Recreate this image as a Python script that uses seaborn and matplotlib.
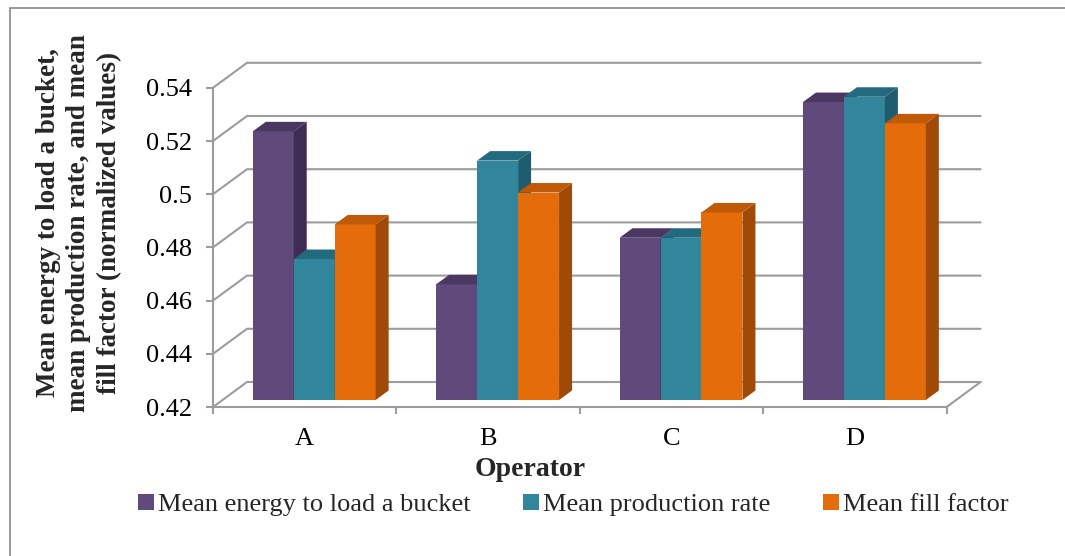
import numpy as np
import pandas as pd
import matplotlib
matplotlib.use("Agg")
import matplotlib.pyplot as plt
import seaborn as sns
from matplotlib.patches import Polygon, Patch, Rectangle
from matplotlib.lines import Line2D
from matplotlib.transforms import IdentityTransform

# ---------------- data ----------------
operators = ["A", "B", "C", "D"]
series = ["Mean energy to load a bucket", "Mean production rate", "Mean fill factor"]
energy = [0.521, 0.4635, 0.481, 0.532]
production = [0.473, 0.510, 0.481, 0.534]
fill = [0.486, 0.498, 0.4905, 0.524]
y_ticks = [0.42, 0.44, 0.46, 0.48, 0.50, 0.52, 0.54]
y_tick_labels = ["0.42", "0.44", "0.46", "0.48", "0.5", "0.52", "0.54"]

front_colors = ["#5F4A7B", "#31869B", "#E46C0A"]
top_colors = ["#4A3862", "#236A7E", "#C15A08"]
side_colors = ["#3E2C55", "#1F5C70", "#9F4A06"]
grid_color = "#9C9C9C"

df = pd.DataFrame({
    "Operator": operators * 3,
    "Series": np.repeat(series, len(operators)),
    "Value": energy + production + fill,
})

sns.set_theme(style="white")
plt.rcParams["font.family"] = ["Liberation Serif", "DejaVu Serif"]

W, H = 1065, 556
fig = plt.figure(figsize=(W / 100, H / 100), dpi=100)

# geometry (pixels)
plot_w = 733.6
plot_h = 319.2
front_left, front_bottom = 213.0, 149.0
bar_shift = (9.5, 7.0)       # bar plane relative to front plane
wall_shift = (34.0, 25.0)    # back wall relative to front plane
bar_depth = (13.0, 9.5)      # depth of each bar

ax_front = fig.add_axes([front_left / W, front_bottom / H, plot_w / W, plot_h / H])
ax = fig.add_axes([(front_left + bar_shift[0]) / W, (front_bottom + bar_shift[1]) / H,
                   plot_w / W, plot_h / H])
for a in (ax_front, ax):
    a.set_xlim(-0.5, len(operators) - 0.5)
    a.set_ylim(y_ticks[0], y_ticks[-1])
ax.patch.set_alpha(0)
ax_front.patch.set_alpha(0)
ax.set_zorder(2)
ax_front.set_zorder(1)

# front axes: spines, ticks, labels
for s in ["top", "right"]:
    ax_front.spines[s].set_visible(False)
for s in ["left", "bottom"]:
    ax_front.spines[s].set_color(grid_color)
    ax_front.spines[s].set_linewidth(1.5)
ax_front.set_yticks(y_ticks)
ax_front.set_yticklabels(y_tick_labels)
ax_front.set_xticks(range(len(operators)))
ax_front.set_xticklabels(operators)
ax_front.set_xticks(np.arange(-0.5, len(operators), 1.0), minor=True)
ax_front.tick_params(axis="y", left=True, direction="out", length=5, width=1.5,
                     color=grid_color, labelsize=19, pad=10, labelcolor="black")
ax_front.tick_params(axis="x", which="major", bottom=True, length=0, labelsize=19,
                     pad=15, labelcolor="black")
ax_front.tick_params(axis="x", which="minor", bottom=True, direction="out", length=5,
                     width=1.5, color=grid_color)

# walls / gridlines
for v in y_ticks:
    p = ax_front.transData.transform((-0.5, v))
    q = p + np.array(wall_shift)
    r = ax_front.transData.transform((len(operators) - 0.5, v)) + np.array(wall_shift)
    ax_front.add_line(Line2D([p[0], q[0], r[0]], [p[1], q[1], r[1]], color=grid_color,
                             lw=1.5, transform=IdentityTransform(), clip_on=False, zorder=0.5))
p = ax_front.transData.transform((len(operators) - 0.5, y_ticks[0]))
q = p + np.array(wall_shift)
ax_front.add_line(Line2D([p[0], q[0]], [p[1], q[1]], color=grid_color, lw=1.5,
                         transform=IdentityTransform(), clip_on=False, zorder=0.5))

# bars
group_w = 0.67
sns.barplot(data=df, x="Operator", y="Value", hue="Series", order=operators,
            hue_order=series, palette=front_colors, width=group_w, saturation=1,
            legend=False, ax=ax, edgecolor="none", linewidth=0, errorbar=None)
ax.set_xlim(-0.5, len(operators) - 0.5)
ax.set_ylim(y_ticks[0], y_ticks[-1])
ax.axis("off")

bw = group_w / len(series)
d = np.array(bar_depth)
for patch in list(ax.patches):
    x0 = patch.get_x()
    w = patch.get_width()
    if w <= 0:
        continue
    cx = x0 + w / 2
    cat = int(round(cx))
    h = int(round((cx - cat + group_w / 2 - bw / 2) / bw))
    h = max(0, min(len(series) - 1, h))
    z = 2 + 0.1 * h
    patch.set_zorder(z)
    top = patch.get_y() + patch.get_height()
    tl = ax.transData.transform((x0, top))
    tr = ax.transData.transform((x0 + w, top))
    br = ax.transData.transform((x0 + w, y_ticks[0]))
    side = Polygon([br, tr, tr + d, br + d], closed=True, facecolor=side_colors[h],
                   edgecolor="none", transform=IdentityTransform(), clip_on=False, zorder=z)
    topf = Polygon([tl, tr, tr + d, tl + d], closed=True, facecolor=top_colors[h],
                   edgecolor="none", transform=IdentityTransform(), clip_on=False, zorder=z)
    ax.add_patch(side)
    ax.add_patch(topf)

# texts
fig.text(530 / W, 1 - 469 / H, "Operator", ha="center", va="center",
         fontsize=20, fontweight="bold")
fig.text(79 / W, 1 - 223 / H,
         "Mean energy to load a bucket,\nmean production rate, and mean\nfill factor (normalized values)",
         ha="center", va="center", rotation=90, fontsize=19.5, fontweight="bold",
         linespacing=1.3, multialignment="center")

handles = [Patch(facecolor=c, edgecolor="none", label=s) for c, s in zip(front_colors, series)]
fig.legend(handles=handles, loc="center", bbox_to_anchor=(573 / W, 1 - 505 / H), ncol=3,
           frameon=False, fontsize=19, handlelength=0.6, handleheight=0.6,
           handletextpad=0.15, columnspacing=2.0)

# outer frame
fig.add_artist(Rectangle((10 / W, -0.5), 2.0, 1 - 8 / H + 0.5, transform=fig.transFigure,
                         fill=False, edgecolor="#8A8A8A", lw=1.2))

fig.savefig("out.png", dpi=100)
